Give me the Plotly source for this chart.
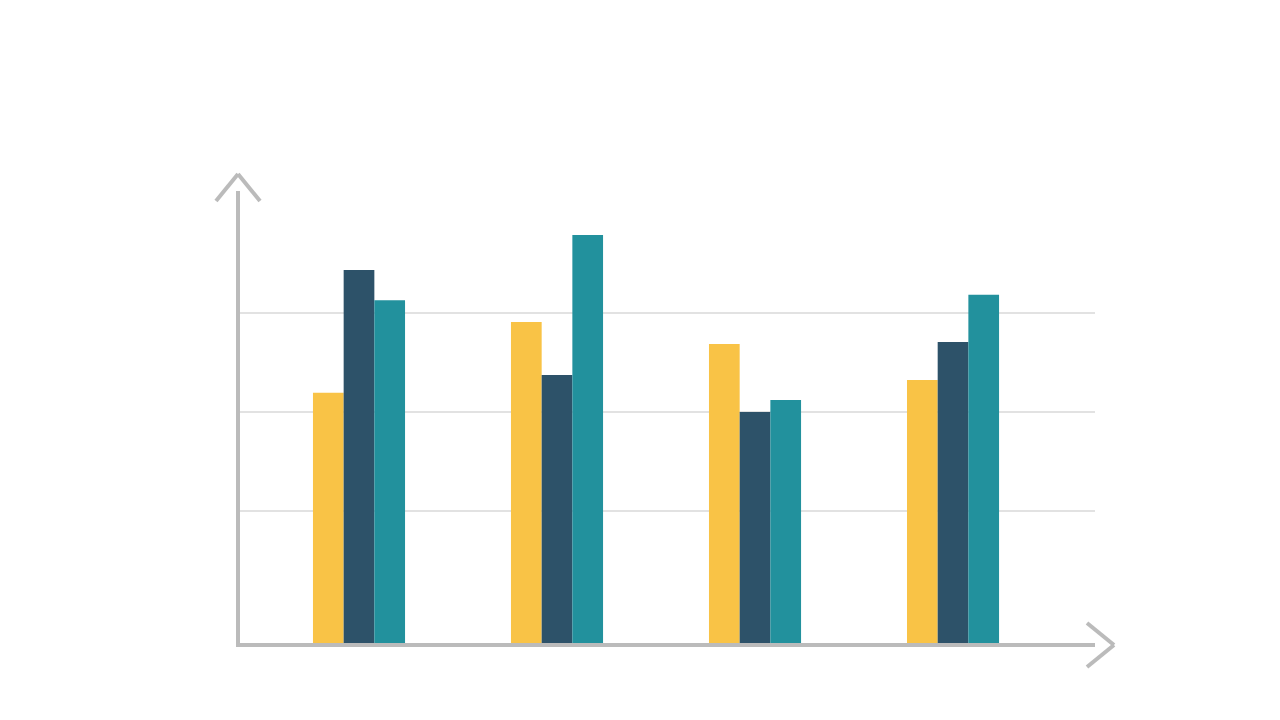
import plotly.graph_objects as go

# four groups, three series, no visible labels
groups = ["A", "B", "C", "D"]
series_1 = [7.58, 9.73, 9.06, 7.97]   # yellow
series_2 = [11.30, 8.12, 7.00, 9.12]  # dark blue
series_3 = [10.39, 12.36, 7.36, 10.55]  # teal
grid_vals = [4, 7, 10]

colors = ["#F9C346", "#2D5269", "#22919D"]
axis_col = "#BBBBBB"

fig = go.Figure()
for vals, c in zip([series_1, series_2, series_3], colors):
    fig.add_trace(go.Bar(x=groups, y=vals, marker=dict(color=c, line=dict(width=0)),
                         hoverinfo="skip"))

# arrow heads on the axes (paper coords over the plot area)
def arm(x0, y0, x1, y1):
    fig.add_shape(type="line", xref="paper", yref="paper", x0=x0, y0=y0, x1=x1, y1=y1,
                  line=dict(color=axis_col, width=4))

# plot area on the page: x 240..1095 (855px), y 191..643 (452px)
pw, ph = 855.0, 452.0
def px(x):
    return (x - 240) / pw
def py(y):
    return (643 - y) / ph

arm(px(216), py(201), px(238), py(174))
arm(px(238), py(174), px(260), py(201))
arm(px(1087), py(623), px(1114), py(645))
arm(px(1114), py(645), px(1087), py(667))

# page body has an 8px margin, so the figure is 1272x712 and offset by 8
fig.update_layout(
    width=1272, height=712,
    margin=dict(l=232, r=185, t=183, b=77, pad=0),
    paper_bgcolor="white", plot_bgcolor="white",
    barmode="group", bargap=0.535, bargroupgap=0,
    showlegend=False,
    xaxis=dict(range=[-0.601, 3.717], showticklabels=False, showgrid=False,
               zeroline=False, showline=True, linecolor=axis_col, linewidth=4,
               ticks="", fixedrange=True),
    yaxis=dict(range=[0, 452 / 33.0], tickvals=grid_vals, showticklabels=False,
               showgrid=True, gridcolor="#E2E2E2", gridwidth=2, zeroline=False,
               showline=True, linecolor=axis_col, linewidth=4, ticks="",
               fixedrange=True),
)

fig.write_html("out.html", config={"displayModeBar": False})
